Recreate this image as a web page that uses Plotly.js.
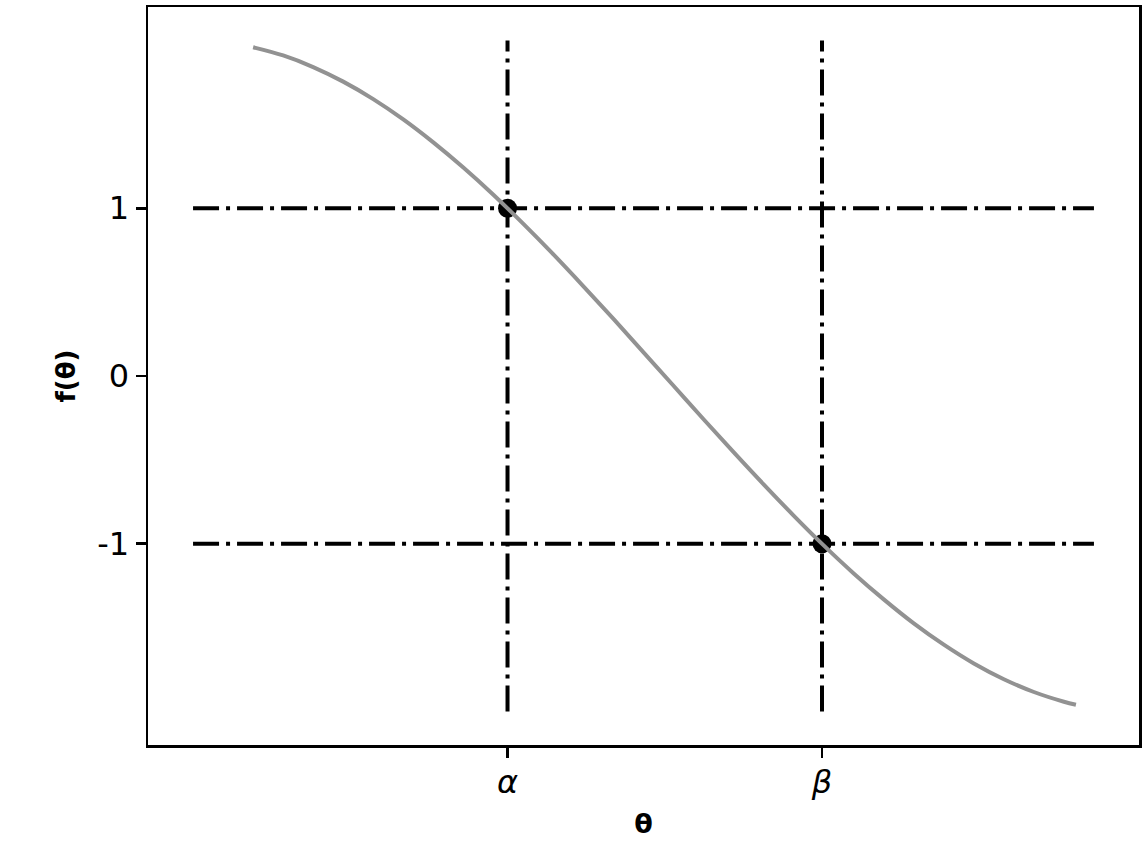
<!DOCTYPE html>
<html>
<head>
<meta charset="utf-8">
<script src="https://cdn.plot.ly/plotly-3.0.1.min.js"></script>
<style>html,body{margin:0;padding:0;background:#fff;}#chart{width:1146px;height:844px;}</style>
</head>
<body>
<div id="chart"></div>
<script>
// Curve f(θ)
const thetaValues = [0.2,0.3,0.4,0.5,0.6,0.7,0.8,0.9,1.0,1.1,1.2,1.3,1.4,1.5,1.6,1.7,1.8,1.9,2.0,2.1,2.2,2.3,2.4,2.5,2.6,2.7,2.8,2.9,2.94];
const fValues = [1.960,1.911,1.842,1.755,1.651,1.530,1.393,1.243,1.081,0.907,0.725,0.535,0.340,0.141,-0.058,-0.258,-0.454,-0.646,-0.832,-1.010,-1.177,-1.332,-1.475,-1.602,-1.714,-1.808,-1.884,-1.942,-1.960];
// Special points
const alpha = 1.0472;
const beta = 2.0944;
const pointX = [alpha, beta];
const pointY = [1, -1];
// Reference lines
const hLevels = [1, -1];
const hLineX = [0, 3];
const vLineY = [-2, 2];
// Ticks
const xTickVals = [alpha, beta];
const xTickText = ['<i>α</i>', '<i>β</i>'];
const yTickVals = [-1, 0, 1];
const yTickText = ['-1', '0', '1'];

const dashStyle = {color: '#000', width: 4, dash: '26px,7px,4px,7px'};
const traces = [];
hLevels.forEach(h => traces.push({x: hLineX, y: [h, h], mode: 'lines', line: dashStyle, hoverinfo: 'skip'}));
pointX.forEach(px => traces.push({x: [px, px], y: vLineY, mode: 'lines', line: dashStyle, hoverinfo: 'skip'}));
traces.push({x: pointX, y: pointY, mode: 'markers', marker: {color: '#000', size: 19}});
traces.push({x: thetaValues, y: fValues, mode: 'lines', line: {color: '#929292', width: 4, shape: 'spline'}});

const layout = {
  width: 1146, height: 844,
  margin: {l: 148, r: 7, t: 7, b: 99},
  showlegend: false,
  paper_bgcolor: '#fff', plot_bgcolor: '#fff',
  font: {family: 'DejaVu Sans', color: '#000'},
  xaxis: {
    range: [-0.15, 3.15], tickvals: xTickVals, ticktext: xTickText,
    showgrid: false, zeroline: false, showline: true, mirror: true, linecolor: '#000', linewidth: 2.5,
    ticks: 'outside', ticklen: 10, tickwidth: 2.5, tickcolor: '#000',
    ticklabelstandoff: -3,
    tickfont: {size: 32, family: 'DejaVu Sans'},
    title: {text: '<b>θ</b>', font: {size: 27, family: 'DejaVu Sans'}, standoff: 14}
  },
  yaxis: {
    range: [-2.2, 2.2], tickvals: yTickVals, ticktext: yTickText,
    showgrid: false, zeroline: false, showline: true, mirror: true, linecolor: '#000', linewidth: 2.5,
    ticks: 'outside', ticklen: 10, tickwidth: 2.5, tickcolor: '#000',
    tickfont: {size: 32, family: 'DejaVu Sans'},
    title: {text: '<b>f(θ)</b>', font: {size: 26, family: 'DejaVu Sans'}, standoff: 14}
  }
};
Plotly.newPlot('chart', traces, layout, {displayModeBar: false, staticPlot: true});
</script>
</body>
</html>
